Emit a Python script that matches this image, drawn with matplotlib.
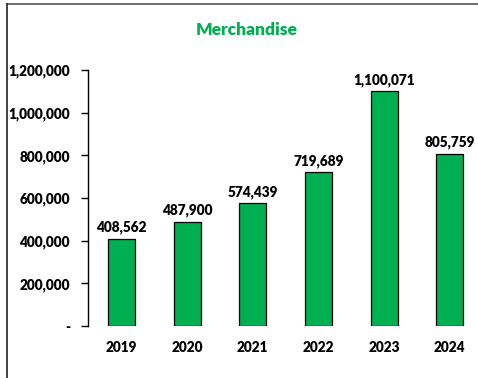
import matplotlib
matplotlib.use("Agg")
import matplotlib.pyplot as plt
from matplotlib.lines import Line2D
from matplotlib.ticker import FuncFormatter

# ---- data ----
years = ["2019", "2020", "2021", "2022", "2023", "2024"]
merch = [408562, 487900, 574439, 719689, 1100071, 805759]
yticks = [0, 200000, 400000, 600000, 800000, 1000000, 1200000]

GREEN = "#00B050"
plt.rcParams["font.family"] = ["Lato", "DejaVu Sans"]

W, H = 478, 378
fig = plt.figure(figsize=(W / 100, H / 100), dpi=100)
# plot area in pixel terms: y-axis at x=88, zero at y=326, 1.2M at y=70
ax = fig.add_axes([88 / W, (H - 326) / H, (W - 88) / W, (326 - 70) / H])

x = range(len(years))
ax.bar(x, merch, width=0.41, color=GREEN, edgecolor="black", linewidth=0.9)
for xi, v in zip(x, merch):
    ax.text(xi, v + 22000, f"{v:,}", ha="center", va="bottom",
            fontsize=9.8, fontweight="heavy")

ax.set_xlim(-0.51, 5.43)
ax.set_ylim(0, 1200000)
ax.set_yticks(yticks)
ax.yaxis.set_major_formatter(FuncFormatter(lambda v, p: "-" if v == 0 else f"{int(v):,}"))
ax.set_xticks(list(x))
ax.set_xticklabels(years)
ax.tick_params(axis="x", length=0, pad=11)
ax.tick_params(axis="y", length=5, width=1, pad=8)
for lab in ax.get_xticklabels() + ax.get_yticklabels():
    lab.set_fontweight("heavy")
    lab.set_fontsize(9.8)
for side in ("top", "right", "bottom"):
    ax.spines[side].set_visible(False)
ax.spines["left"].set_linewidth(1)

fig.text(247 / W, 1 - 30 / H, "Merchandise", ha="center", va="center",
         color=GREEN, fontsize=12.5, fontweight="heavy")

# outer frame: top and left edges of the chart box
fig.add_artist(Line2D([6.5 / W, 1], [1 - 4 / H, 1 - 4 / H], color="#555555", lw=1.2))
fig.add_artist(Line2D([6.5 / W, 6.5 / W], [0, 1 - 4 / H], color="#222222", lw=1.2))

fig.savefig("out.png", dpi=100)
